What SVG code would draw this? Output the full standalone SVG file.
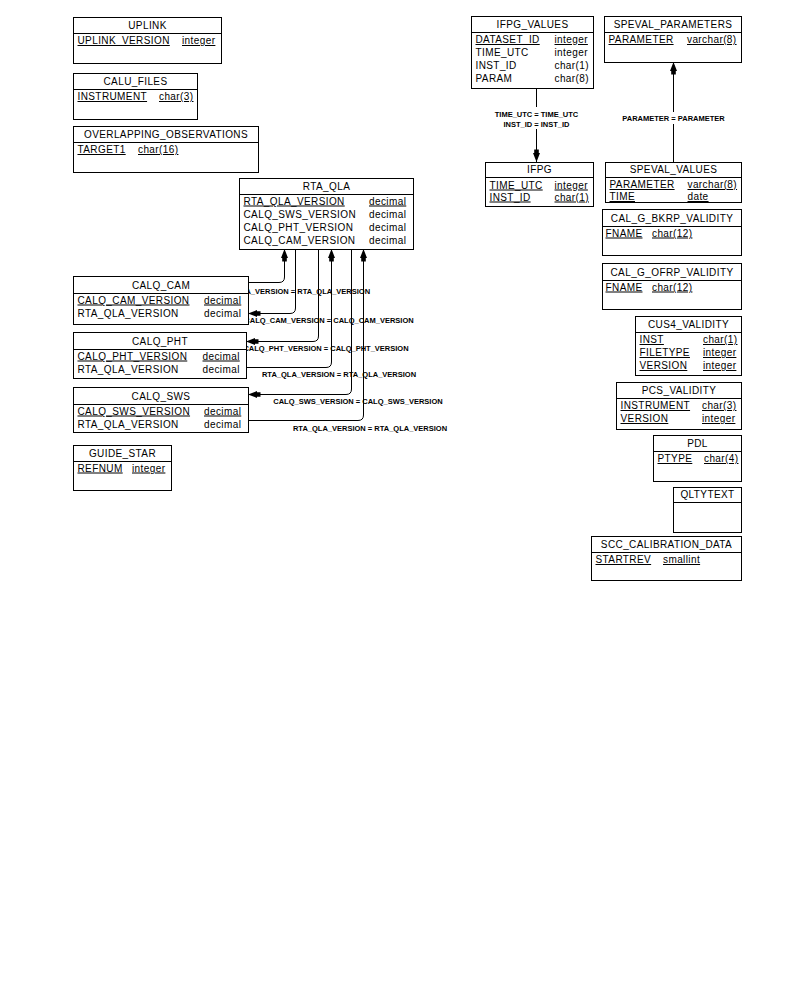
<svg xmlns="http://www.w3.org/2000/svg" width="799" height="999" viewBox="0 0 799 999">
<style>
.box{fill:#fff;stroke:#000;stroke-width:1}
.hl{stroke:#000;stroke-width:1}
.t{font-family:"Liberation Sans",Arial,sans-serif;font-size:10px;letter-spacing:0.4px;fill:#000}
.ttl{text-anchor:middle}
.pk{text-decoration:underline}
.lbl{font-family:"Liberation Sans",Arial,sans-serif;font-size:7.5px;font-weight:bold;text-anchor:middle;fill:#000}
.conn{fill:none;stroke:#000;stroke-width:1}
</style>
<defs>
<marker id="arr" markerUnits="userSpaceOnUse" markerWidth="16" markerHeight="10" viewBox="-14 -5 16 10" refX="0" refY="0" orient="auto" overflow="visible">
<path d="M0,0 L-9,-3.5 L-9,-2.3 L-12.5,-2.3 L-12.5,2.3 L-9,2.3 L-9,3.5 Z" fill="#000"/>
</marker>
</defs>
<rect x="0" y="0" width="799" height="999" fill="#fff"/>

<g id="connectors">
<path class="conn" d="M248,282.5 H279 Q284.5,282.5 284.5,277 V249" marker-end="url(#arr)"/>
<path class="conn" d="M295.5,249 V308 Q295.5,313.5 290,313.5 H248" marker-end="url(#arr)"/>
<path class="conn" d="M318.5,249 V336 Q318.5,341.5 313,341.5 H246" marker-end="url(#arr)"/>
<path class="conn" d="M246,367.5 H326 Q331.5,367.5 331.5,362 V249" marker-end="url(#arr)"/>
<path class="conn" d="M351.5,249 V389 Q351.5,394.5 346,394.5 H248" marker-end="url(#arr)"/>
<path class="conn" d="M248,420.5 H358 Q363.5,420.5 363.5,415 V249" marker-end="url(#arr)"/>
<text class="lbl" x="293" y="293.7">RTA_QLA_VERSION = RTA_QLA_VERSION</text>
<text class="lbl" x="329" y="322.7">CALQ_CAM_VERSION = CALQ_CAM_VERSION</text>
<text class="lbl" x="326" y="350.7">CALQ_PHT_VERSION = CALQ_PHT_VERSION</text>
<text class="lbl" x="339" y="376.7">RTA_QLA_VERSION = RTA_QLA_VERSION</text>
<text class="lbl" x="358" y="403.7">CALQ_SWS_VERSION = CALQ_SWS_VERSION</text>
<text class="lbl" x="370" y="430.7">RTA_QLA_VERSION = RTA_QLA_VERSION</text>

<path class="conn" d="M536.5,88 V162" marker-end="url(#arr)"/>
<rect x="492" y="107" width="89" height="22" fill="#fff"/>
<text class="lbl" x="536.5" y="116.7">TIME_UTC = TIME_UTC</text>
<text class="lbl" x="536.5" y="126.7">INST_ID = INST_ID</text>

<path class="conn" d="M673.5,162 V62" marker-end="url(#arr)"/>
<rect x="620" y="112" width="107" height="12" fill="#fff"/>
<text class="lbl" x="673.5" y="120.7">PARAMETER = PARAMETER</text>
</g>

<g id="UPLINK">
<rect class="box" x="73.5" y="17.5" width="148" height="46"/>
<line class="hl" x1="73.5" y1="33.5" x2="221.5" y2="33.5"/>
<text class="t ttl" x="147.5" y="28.6">UPLINK</text>
<text class="t pk" x="77.5" y="44">UPLINK_VERSION</text>
<text class="t pk" x="182" y="44">integer</text>
</g>

<g id="CALU_FILES">
<rect class="box" x="73.5" y="73.5" width="124" height="46"/>
<line class="hl" x1="73.5" y1="89.5" x2="197.5" y2="89.5"/>
<text class="t ttl" x="135.5" y="84.6">CALU_FILES</text>
<text class="t pk" x="77.5" y="100">INSTRUMENT</text>
<text class="t pk" x="159" y="100">char(3)</text>
</g>

<g id="OVERLAPPING_OBSERVATIONS">
<rect class="box" x="73.5" y="126.5" width="185" height="46"/>
<line class="hl" x1="73.5" y1="142.5" x2="258.5" y2="142.5"/>
<text class="t ttl" x="166" y="137.6">OVERLAPPING_OBSERVATIONS</text>
<text class="t pk" x="77.5" y="153">TARGET1</text>
<text class="t pk" x="138" y="153">char(16)</text>
</g>

<g id="RTA_QLA">
<rect class="box" x="239.5" y="178.5" width="174" height="71"/>
<line class="hl" x1="239.5" y1="194.5" x2="413.5" y2="194.5"/>
<text class="t ttl" x="326.5" y="189.6">RTA_QLA</text>
<text class="t pk" x="243.5" y="204.5">RTA_QLA_VERSION</text>
<text class="t pk" x="369" y="204.5">decimal</text>
<text class="t" x="243.5" y="217.5">CALQ_SWS_VERSION</text>
<text class="t" x="369" y="217.5">decimal</text>
<text class="t" x="243.5" y="230.5">CALQ_PHT_VERSION</text>
<text class="t" x="369" y="230.5">decimal</text>
<text class="t" x="243.5" y="243.5">CALQ_CAM_VERSION</text>
<text class="t" x="369" y="243.5">decimal</text>
</g>

<g id="CALQ_CAM">
<rect class="box" x="73.5" y="276.5" width="175" height="48"/>
<line class="hl" x1="73.5" y1="293.5" x2="248.5" y2="293.5"/>
<text class="t ttl" x="161" y="288.6">CALQ_CAM</text>
<text class="t pk" x="77.5" y="303.5">CALQ_CAM_VERSION</text>
<text class="t pk" x="204" y="303.5">decimal</text>
<text class="t" x="77.5" y="316.5">RTA_QLA_VERSION</text>
<text class="t" x="204" y="316.5">decimal</text>
</g>

<g id="CALQ_PHT">
<rect class="box" x="73.5" y="332.5" width="173" height="46"/>
<line class="hl" x1="73.5" y1="349.5" x2="246.5" y2="349.5"/>
<text class="t ttl" x="160" y="344.6">CALQ_PHT</text>
<text class="t pk" x="77.5" y="359.5">CALQ_PHT_VERSION</text>
<text class="t pk" x="202.5" y="359.5">decimal</text>
<text class="t" x="77.5" y="372.5">RTA_QLA_VERSION</text>
<text class="t" x="202.5" y="372.5">decimal</text>
</g>

<g id="CALQ_SWS">
<rect class="box" x="73.5" y="387.5" width="175" height="45"/>
<line class="hl" x1="73.5" y1="404.5" x2="248.5" y2="404.5"/>
<text class="t ttl" x="161" y="399.6">CALQ_SWS</text>
<text class="t pk" x="77.5" y="414.5">CALQ_SWS_VERSION</text>
<text class="t pk" x="204" y="414.5">decimal</text>
<text class="t" x="77.5" y="427.5">RTA_QLA_VERSION</text>
<text class="t" x="204" y="427.5">decimal</text>
</g>

<g id="GUIDE_STAR">
<rect class="box" x="73.5" y="445.5" width="98" height="45"/>
<line class="hl" x1="73.5" y1="461.5" x2="171.5" y2="461.5"/>
<text class="t ttl" x="122.5" y="456.6">GUIDE_STAR</text>
<text class="t pk" x="77.5" y="471.5">REFNUM</text>
<text class="t pk" x="132" y="471.5">integer</text>
</g>

<g id="IFPG_VALUES">
<rect class="box" x="471.5" y="16.5" width="122" height="72"/>
<line class="hl" x1="471.5" y1="32.5" x2="593.5" y2="32.5"/>
<text class="t ttl" x="532.5" y="27.6">IFPG_VALUES</text>
<text class="t pk" x="475.5" y="43">DATASET_ID</text>
<text class="t pk" x="554.5" y="43">integer</text>
<text class="t" x="475.5" y="56">TIME_UTC</text>
<text class="t" x="554.5" y="56">integer</text>
<text class="t" x="475.5" y="69">INST_ID</text>
<text class="t" x="554.5" y="69">char(1)</text>
<text class="t" x="475.5" y="82">PARAM</text>
<text class="t" x="554.5" y="82">char(8)</text>
</g>

<g id="SPEVAL_PARAMETERS">
<rect class="box" x="604.5" y="16.5" width="137" height="46"/>
<line class="hl" x1="604.5" y1="32.5" x2="741.5" y2="32.5"/>
<text class="t ttl" x="673" y="27.6">SPEVAL_PARAMETERS</text>
<text class="t pk" x="608.5" y="43">PARAMETER</text>
<text class="t pk" x="687" y="43">varchar(8)</text>
</g>

<g id="IFPG">
<rect class="box" x="485.5" y="162.5" width="108" height="44"/>
<line class="hl" x1="485.5" y1="177.5" x2="593.5" y2="177.5"/>
<text class="t ttl" x="539.5" y="173.1">IFPG</text>
<text class="t pk" x="489.5" y="188.5">TIME_UTC</text>
<text class="t pk" x="554.5" y="188.5">integer</text>
<text class="t pk" x="489.5" y="200.5">INST_ID</text>
<text class="t pk" x="554.5" y="200.5">char(1)</text>
</g>

<g id="SPEVAL_VALUES">
<rect class="box" x="605.5" y="162.5" width="136" height="40"/>
<line class="hl" x1="605.5" y1="177.5" x2="741.5" y2="177.5"/>
<text class="t ttl" x="673.5" y="173.1">SPEVAL_VALUES</text>
<text class="t pk" x="609.5" y="188">PARAMETER</text>
<text class="t pk" x="687.5" y="188">varchar(8)</text>
<text class="t pk" x="609.5" y="200">TIME</text>
<text class="t pk" x="687.5" y="200">date</text>
</g>

<g id="CAL_G_BKRP_VALIDITY">
<rect class="box" x="602.5" y="209.5" width="139" height="46"/>
<line class="hl" x1="602.5" y1="226.5" x2="741.5" y2="226.5"/>
<text class="t ttl" x="672" y="221.6">CAL_G_BKRP_VALIDITY</text>
<text class="t pk" x="605.5" y="236.5">FNAME</text>
<text class="t pk" x="652" y="236.5">char(12)</text>
</g>

<g id="CAL_G_OFRP_VALIDITY">
<rect class="box" x="602.5" y="263.5" width="139" height="46"/>
<line class="hl" x1="602.5" y1="280.5" x2="741.5" y2="280.5"/>
<text class="t ttl" x="672" y="275.6">CAL_G_OFRP_VALIDITY</text>
<text class="t pk" x="605.5" y="290.5">FNAME</text>
<text class="t pk" x="652" y="290.5">char(12)</text>
</g>

<g id="CUS4_VALIDITY">
<rect class="box" x="635.5" y="316.5" width="106" height="59"/>
<line class="hl" x1="635.5" y1="332.5" x2="741.5" y2="332.5"/>
<text class="t ttl" x="688.5" y="327.6">CUS4_VALIDITY</text>
<text class="t pk" x="639.5" y="343">INST</text>
<text class="t pk" x="703" y="343">char(1)</text>
<text class="t pk" x="639.5" y="356">FILETYPE</text>
<text class="t pk" x="703" y="356">integer</text>
<text class="t pk" x="639.5" y="369">VERSION</text>
<text class="t pk" x="703" y="369">integer</text>
</g>

<g id="PCS_VALIDITY">
<rect class="box" x="616.5" y="382.5" width="125" height="47"/>
<line class="hl" x1="616.5" y1="398.5" x2="741.5" y2="398.5"/>
<text class="t ttl" x="679" y="393.6">PCS_VALIDITY</text>
<text class="t pk" x="620.5" y="409">INSTRUMENT</text>
<text class="t pk" x="702" y="409">char(3)</text>
<text class="t pk" x="620.5" y="422">VERSION</text>
<text class="t pk" x="702" y="422">integer</text>
</g>

<g id="PDL">
<rect class="box" x="653.5" y="435.5" width="88" height="46"/>
<line class="hl" x1="653.5" y1="451.5" x2="741.5" y2="451.5"/>
<text class="t ttl" x="697.5" y="446.6">PDL</text>
<text class="t pk" x="657.5" y="462">PTYPE</text>
<text class="t pk" x="704" y="462">char(4)</text>
</g>

<g id="QLTYTEXT">
<rect class="box" x="673.5" y="487.5" width="68" height="45"/>
<line class="hl" x1="673.5" y1="502.5" x2="741.5" y2="502.5"/>
<text class="t ttl" x="707.5" y="498.1">QLTYTEXT</text>
</g>

<g id="SCC_CALIBRATION_DATA">
<rect class="box" x="591.5" y="536.5" width="150" height="44"/>
<line class="hl" x1="591.5" y1="552.5" x2="741.5" y2="552.5"/>
<text class="t ttl" x="666.5" y="547.6">SCC_CALIBRATION_DATA</text>
<text class="t pk" x="595.5" y="563">STARTREV</text>
<text class="t pk" x="663" y="563">smallint</text>
</g>
</svg>
